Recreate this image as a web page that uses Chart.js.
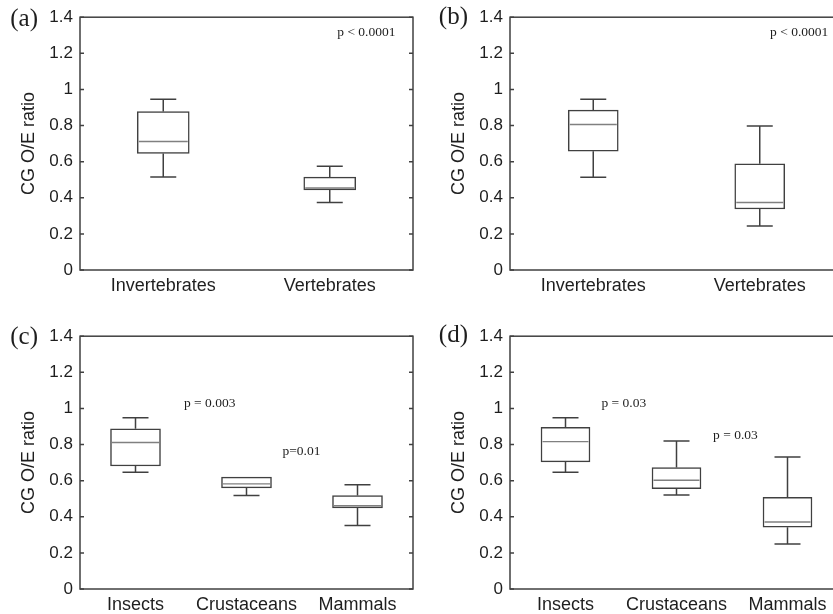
<!DOCTYPE html>
<html>
<head>
<meta charset="utf-8">
<script src="https://cdn.jsdelivr.net/npm/chart.js@4.4.1/dist/chart.umd.min.js"></script>
<style>
  html, body { margin: 0; padding: 0; background: #fff; }
  body { width: 833px; height: 614px; overflow: hidden; position: relative; }
  canvas { position: absolute; }
</style>
</head>
<body>
<canvas id="panel-a" width="416" height="300" style="left:0;top:0"></canvas>
<canvas id="panel-b" width="416" height="300" style="left:430px;top:0"></canvas>
<canvas id="panel-c" width="416" height="300" style="left:0;top:319px"></canvas>
<canvas id="panel-d" width="416" height="300" style="left:430px;top:319px"></canvas>
<script>
// y axis ticks shared by all four panels
const yTicks = [0, 0.2, 0.4, 0.6, 0.8, 1, 1.2, 1.4];

const classCategories = ['Invertebrates', 'Vertebrates'];
const groupCategories = ['Insects', 'Crustaceans', 'Mammals'];

// (a)
const aMin = [0.515, 0.374];
const aQ1 = [0.645, 0.444];
const aMedian = [0.712, 0.454];
const aQ3 = [0.878, 0.514];
const aMax = [0.945, 0.575];
const aNotes = ['p < 0.0001'];

// (b)
const bMin = [0.514, 0.243];
const bQ1 = [0.658, 0.338];
const bMedian = [0.806, 0.374];
const bQ3 = [0.885, 0.588];
const bMax = [0.945, 0.798];
const bNotes = ['p < 0.0001'];

// (c)
const cMin = [0.647, 0.518, 0.351];
const cQ1 = [0.681, 0.560, 0.449];
const cMedian = [0.811, 0.582, 0.461];
const cQ3 = [0.887, 0.620, 0.518];
const cMax = [0.949, 0.620, 0.578];
const cNotes = ['p = 0.003', 'p=0.01'];

// (d)
const dMin = [0.647, 0.520, 0.249];
const dQ1 = [0.704, 0.555, 0.342];
const dMedian = [0.816, 0.602, 0.371];
const dQ3 = [0.895, 0.673, 0.507];
const dMax = [0.949, 0.820, 0.731];
const dNotes = ['p = 0.03', 'p = 0.03'];

const lineColor = '#404040';
const medianColor = '#808080';
const textColor = '#1e1e1e';

// whiskers, medians, frame, inward ticks and the text labels
const boxPlotExtras = {
    id: 'boxPlotExtras',
    afterDatasetsDraw(chart, args, opts) {
        const { ctx, scales: { x, y } } = chart;
        const bars = chart.getDatasetMeta(0).data;
        const capHalf = opts.capWidth / 2;
        ctx.save();
        ctx.lineWidth = 1.5;
        ctx.strokeStyle = lineColor;
        ctx.beginPath();
        opts.mins.forEach((lo, i) => {
            const cx = x.getPixelForValue(i);
            const pLo = y.getPixelForValue(lo);
            const pQ1 = y.getPixelForValue(opts.q1[i]);
            const pQ3 = y.getPixelForValue(opts.q3[i]);
            const pHi = y.getPixelForValue(opts.maxs[i]);
            if (opts.maxs[i] > opts.q3[i]) {
                ctx.moveTo(cx, pQ3);
                ctx.lineTo(cx, pHi);
                ctx.moveTo(cx - capHalf, pHi);
                ctx.lineTo(cx + capHalf, pHi);
            }
            if (lo < opts.q1[i]) {
                ctx.moveTo(cx, pQ1);
                ctx.lineTo(cx, pLo);
                ctx.moveTo(cx - capHalf, pLo);
                ctx.lineTo(cx + capHalf, pLo);
            }
        });
        ctx.stroke();

        ctx.strokeStyle = medianColor;
        ctx.lineWidth = 1.4;
        ctx.beginPath();
        opts.medians.forEach((m, i) => {
            const el = bars[i];
            const pm = y.getPixelForValue(m);
            ctx.moveTo(el.x - el.width / 2 + 1.5, pm);
            ctx.lineTo(el.x + el.width / 2 - 1.5, pm);
        });
        ctx.stroke();
        ctx.restore();
    },
    afterDraw(chart, args, opts) {
        const { ctx, chartArea: area, scales: { x, y } } = chart;
        ctx.save();
        ctx.strokeStyle = lineColor;
        ctx.lineWidth = 1.5;
        ctx.strokeRect(area.left, area.top, area.right - area.left, area.bottom - area.top);
        ctx.beginPath();
        y.ticks.forEach(t => {
            const py = y.getPixelForValue(t.value);
            ctx.moveTo(area.left, py);
            ctx.lineTo(area.left + 4, py);
            ctx.moveTo(area.right, py);
            ctx.lineTo(area.right - 4, py);
        });
        ctx.stroke();

        ctx.fillStyle = textColor;
        ctx.textBaseline = 'middle';
        ctx.font = '25px "Liberation Serif", "Times New Roman", serif';
        ctx.textAlign = 'right';
        ctx.fillText(opts.panel, 38, opts.panelY);

        ctx.font = '13.5px "Liberation Serif", "Times New Roman", serif';
        ctx.textAlign = 'center';
        opts.notes.forEach((txt, i) => {
            const at = opts.notePos[i];
            ctx.fillText(txt, x.getPixelForValue(at[0]), y.getPixelForValue(at[1]));
        });
        ctx.restore();
    }
};

function makePanel(id, panel, panelY, labels, mins, q1, medians, q3, maxs, notes, notePos, boxWidths) {
    return new Chart(document.getElementById(id), {
        type: 'bar',
        data: {
            labels: labels,
            datasets: [{
                data: q1.map((v, i) => [v, q3[i]]),
                backgroundColor: '#ffffff',
                borderColor: lineColor,
                borderWidth: 1.5,
                borderSkipped: false,
                barThickness: boxWidths
            }]
        },
        options: {
            responsive: false,
            animation: false,
            events: [],
            layout: { padding: { top: 14, right: 3, left: 0, bottom: 0 } },
            plugins: {
                legend: { display: false },
                tooltip: { enabled: false },
                boxPlotExtras: {
                    panel, panelY, mins, q1, q3, maxs, medians, notes, notePos,
                    capWidth: 26
                }
            },
            scales: {
                x: {
                    grid: { display: false, drawTicks: false },
                    border: { display: false },
                    ticks: {
                        color: textColor,
                        padding: 5,
                        maxRotation: 0,
                        autoSkip: false,
                        font: { family: '"Liberation Sans", Arial, sans-serif', size: 18 }
                    },
                    afterFit: s => { s.height = 30; }
                },
                y: {
                    min: 0,
                    max: 1.4,
                    grid: { display: false, drawTicks: false },
                    border: { display: false },
                    afterBuildTicks: s => { s.ticks = yTicks.map(v => ({ value: v })); },
                    ticks: {
                        color: textColor,
                        padding: 7,
                        font: { family: '"Liberation Sans", Arial, sans-serif', size: 17 },
                        callback: v => String(Number(v.toFixed(1)))
                    },
                    title: {
                        display: true,
                        text: 'CG O/E ratio',
                        color: textColor,
                        padding: { top: 18, bottom: 0 },
                        font: { family: '"Liberation Sans", Arial, sans-serif', size: 18 }
                    },
                    afterFit: s => { s.width = 80; }
                }
            }
        },
        plugins: [boxPlotExtras]
    });
}

makePanel('panel-a', '(a)', 19, classCategories, aMin, aQ1, aMedian, aQ3, aMax,
    aNotes, [[1.22, 1.318]], 52);
makePanel('panel-b', '(b)', 17, classCategories, bMin, bQ1, bMedian, bQ3, bMax,
    bNotes, [[1.237, 1.318]], 50);
makePanel('panel-c', '(c)', 18, groupCategories, cMin, cQ1, cMedian, cQ3, cMax,
    cNotes, [[0.668, 1.029], [1.495, 0.76]], 50);
makePanel('panel-d', '(d)', 16, groupCategories, dMin, dQ1, dMedian, dQ3, dMax,
    dNotes, [[0.525, 1.029], [1.531, 0.851]], 49);
</script>
</body>
</html>
